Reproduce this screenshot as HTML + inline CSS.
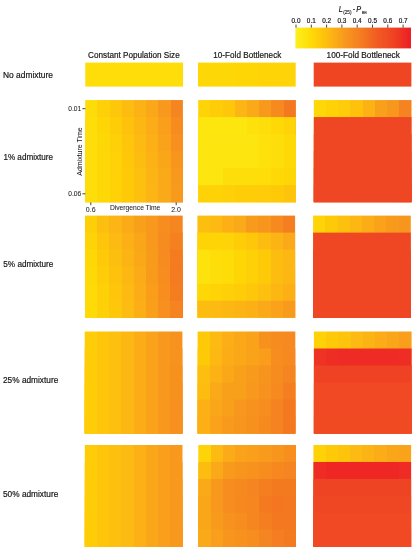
<!DOCTYPE html>
<html><head><meta charset="utf-8"><title>Heatmaps</title>
<style>
html,body{margin:0;padding:0;background:#fff;}
body{width:412px;height:550px;overflow:hidden;}
svg{display:block;will-change:transform}
text{font-family:"Liberation Sans",sans-serif;fill:#151515;stroke:#151515;stroke-width:0.18px}
.t7{font-size:6.4px}
.rl{font-size:8.4px}
.ch{font-size:8.3px}
.ax{font-size:6.7px;stroke-width:0.05px;fill:#222}
.ti{font-size:8.4px;font-style:italic}
.sub{font-size:4.7px;stroke-width:0.1px}
.sub2{font-size:3.8px;stroke-width:0.1px}
</style></head><body>
<svg width="412" height="550" viewBox="0 0 412 550">
<defs><linearGradient id="g1" x1="0" x2="1" y1="0" y2="0"><stop offset="0.0000" stop-color="#fedd09"/><stop offset="0.1250" stop-color="#fedd09"/><stop offset="0.1250" stop-color="#fedd09"/><stop offset="0.2500" stop-color="#fedd09"/><stop offset="0.2500" stop-color="#fedd09"/><stop offset="0.3750" stop-color="#fedd09"/><stop offset="0.3750" stop-color="#fedd09"/><stop offset="0.5000" stop-color="#fedd09"/><stop offset="0.5000" stop-color="#fedd09"/><stop offset="0.6250" stop-color="#fedd09"/><stop offset="0.6250" stop-color="#fedd09"/><stop offset="0.7500" stop-color="#fedd09"/><stop offset="0.7500" stop-color="#fedd09"/><stop offset="0.8750" stop-color="#fedd09"/><stop offset="0.8750" stop-color="#fedd09"/><stop offset="1.0000" stop-color="#fedd09"/></linearGradient><linearGradient id="g2" x1="0" x2="1" y1="0" y2="0"><stop offset="0.0000" stop-color="#fedc08"/><stop offset="0.1250" stop-color="#fedc08"/><stop offset="0.1250" stop-color="#fed007"/><stop offset="0.2500" stop-color="#fed007"/><stop offset="0.2500" stop-color="#fec70a"/><stop offset="0.3750" stop-color="#fec70a"/><stop offset="0.3750" stop-color="#fdbd10"/><stop offset="0.5000" stop-color="#fdbd10"/><stop offset="0.5000" stop-color="#fcb215"/><stop offset="0.6250" stop-color="#fcb215"/><stop offset="0.6250" stop-color="#faa718"/><stop offset="0.7500" stop-color="#faa718"/><stop offset="0.7500" stop-color="#f8981d"/><stop offset="0.8750" stop-color="#f8981d"/><stop offset="0.8750" stop-color="#f58520"/><stop offset="1.0000" stop-color="#f58520"/></linearGradient><linearGradient id="g3" x1="0" x2="1" y1="0" y2="0"><stop offset="0.0000" stop-color="#fedd09"/><stop offset="0.1250" stop-color="#fedd09"/><stop offset="0.1250" stop-color="#fed606"/><stop offset="0.2500" stop-color="#fed606"/><stop offset="0.2500" stop-color="#fecd08"/><stop offset="0.3750" stop-color="#fecd08"/><stop offset="0.3750" stop-color="#fec20d"/><stop offset="0.5000" stop-color="#fec20d"/><stop offset="0.5000" stop-color="#fcb713"/><stop offset="0.6250" stop-color="#fcb713"/><stop offset="0.6250" stop-color="#fbac16"/><stop offset="0.7500" stop-color="#fbac16"/><stop offset="0.7500" stop-color="#f99f1b"/><stop offset="0.8750" stop-color="#f99f1b"/><stop offset="0.8750" stop-color="#f68c1f"/><stop offset="1.0000" stop-color="#f68c1f"/></linearGradient><linearGradient id="g4" x1="0" x2="1" y1="0" y2="0"><stop offset="0.0000" stop-color="#fede0a"/><stop offset="0.1250" stop-color="#fede0a"/><stop offset="0.1250" stop-color="#fed806"/><stop offset="0.2500" stop-color="#fed806"/><stop offset="0.2500" stop-color="#fed007"/><stop offset="0.3750" stop-color="#fed007"/><stop offset="0.3750" stop-color="#fec50b"/><stop offset="0.5000" stop-color="#fec50b"/><stop offset="0.5000" stop-color="#fdba12"/><stop offset="0.6250" stop-color="#fdba12"/><stop offset="0.6250" stop-color="#fcb015"/><stop offset="0.7500" stop-color="#fcb015"/><stop offset="0.7500" stop-color="#faa21a"/><stop offset="0.8750" stop-color="#faa21a"/><stop offset="0.8750" stop-color="#f7901e"/><stop offset="1.0000" stop-color="#f7901e"/></linearGradient><linearGradient id="g5" x1="0" x2="1" y1="0" y2="0"><stop offset="0.0000" stop-color="#fede0a"/><stop offset="0.1250" stop-color="#fede0a"/><stop offset="0.1250" stop-color="#fed806"/><stop offset="0.2500" stop-color="#fed806"/><stop offset="0.2500" stop-color="#fed207"/><stop offset="0.3750" stop-color="#fed207"/><stop offset="0.3750" stop-color="#fec809"/><stop offset="0.5000" stop-color="#fec809"/><stop offset="0.5000" stop-color="#fdbd10"/><stop offset="0.6250" stop-color="#fdbd10"/><stop offset="0.6250" stop-color="#fcb215"/><stop offset="0.7500" stop-color="#fcb215"/><stop offset="0.7500" stop-color="#faa619"/><stop offset="0.8750" stop-color="#faa619"/><stop offset="0.8750" stop-color="#f8951d"/><stop offset="1.0000" stop-color="#f8951d"/></linearGradient><linearGradient id="g6" x1="0" x2="1" y1="0" y2="0"><stop offset="0.0000" stop-color="#fede0a"/><stop offset="0.1250" stop-color="#fede0a"/><stop offset="0.1250" stop-color="#fed806"/><stop offset="0.2500" stop-color="#fed806"/><stop offset="0.2500" stop-color="#fed207"/><stop offset="0.3750" stop-color="#fed207"/><stop offset="0.3750" stop-color="#feca08"/><stop offset="0.5000" stop-color="#feca08"/><stop offset="0.5000" stop-color="#fdc00e"/><stop offset="0.6250" stop-color="#fdc00e"/><stop offset="0.6250" stop-color="#fcb314"/><stop offset="0.7500" stop-color="#fcb314"/><stop offset="0.7500" stop-color="#faa918"/><stop offset="0.8750" stop-color="#faa918"/><stop offset="0.8750" stop-color="#f8981d"/><stop offset="1.0000" stop-color="#f8981d"/></linearGradient><linearGradient id="g7" x1="0" x2="1" y1="0" y2="0"><stop offset="0.0000" stop-color="#fede0a"/><stop offset="0.1250" stop-color="#fede0a"/><stop offset="0.1250" stop-color="#fed806"/><stop offset="0.2500" stop-color="#fed806"/><stop offset="0.2500" stop-color="#fed207"/><stop offset="0.3750" stop-color="#fed207"/><stop offset="0.3750" stop-color="#feca08"/><stop offset="0.5000" stop-color="#feca08"/><stop offset="0.5000" stop-color="#fdc00e"/><stop offset="0.6250" stop-color="#fdc00e"/><stop offset="0.6250" stop-color="#fcb514"/><stop offset="0.7500" stop-color="#fcb514"/><stop offset="0.7500" stop-color="#faa918"/><stop offset="0.8750" stop-color="#faa918"/><stop offset="0.8750" stop-color="#f89a1c"/><stop offset="1.0000" stop-color="#f89a1c"/></linearGradient><linearGradient id="g8" x1="0" x2="1" y1="0" y2="0"><stop offset="0.0000" stop-color="#fece07"/><stop offset="0.1250" stop-color="#fece07"/><stop offset="0.1250" stop-color="#fdbf0f"/><stop offset="0.2500" stop-color="#fdbf0f"/><stop offset="0.2500" stop-color="#fcb514"/><stop offset="0.3750" stop-color="#fcb514"/><stop offset="0.3750" stop-color="#fbab17"/><stop offset="0.5000" stop-color="#fbab17"/><stop offset="0.5000" stop-color="#f9a01a"/><stop offset="0.6250" stop-color="#f9a01a"/><stop offset="0.6250" stop-color="#f8981d"/><stop offset="0.7500" stop-color="#f8981d"/><stop offset="0.7500" stop-color="#f68d1e"/><stop offset="0.8750" stop-color="#f68d1e"/><stop offset="0.8750" stop-color="#f6861f"/><stop offset="1.0000" stop-color="#f6861f"/></linearGradient><linearGradient id="g9" x1="0" x2="1" y1="0" y2="0"><stop offset="0.0000" stop-color="#fed307"/><stop offset="0.1250" stop-color="#fed307"/><stop offset="0.1250" stop-color="#fec50b"/><stop offset="0.2500" stop-color="#fec50b"/><stop offset="0.2500" stop-color="#fdba12"/><stop offset="0.3750" stop-color="#fdba12"/><stop offset="0.3750" stop-color="#fcb015"/><stop offset="0.5000" stop-color="#fcb015"/><stop offset="0.5000" stop-color="#faa619"/><stop offset="0.6250" stop-color="#faa619"/><stop offset="0.6250" stop-color="#f8981d"/><stop offset="0.7500" stop-color="#f8981d"/><stop offset="0.7500" stop-color="#f68c1f"/><stop offset="0.8750" stop-color="#f68c1f"/><stop offset="0.8750" stop-color="#f58020"/><stop offset="1.0000" stop-color="#f58020"/></linearGradient><linearGradient id="g10" x1="0" x2="1" y1="0" y2="0"><stop offset="0.0000" stop-color="#fed806"/><stop offset="0.1250" stop-color="#fed806"/><stop offset="0.1250" stop-color="#feca08"/><stop offset="0.2500" stop-color="#feca08"/><stop offset="0.2500" stop-color="#fdbf0f"/><stop offset="0.3750" stop-color="#fdbf0f"/><stop offset="0.3750" stop-color="#fcb314"/><stop offset="0.5000" stop-color="#fcb314"/><stop offset="0.5000" stop-color="#faa718"/><stop offset="0.6250" stop-color="#faa718"/><stop offset="0.6250" stop-color="#f89a1c"/><stop offset="0.7500" stop-color="#f89a1c"/><stop offset="0.7500" stop-color="#f68c1f"/><stop offset="0.8750" stop-color="#f68c1f"/><stop offset="0.8750" stop-color="#f47b20"/><stop offset="1.0000" stop-color="#f47b20"/></linearGradient><linearGradient id="g11" x1="0" x2="1" y1="0" y2="0"><stop offset="0.0000" stop-color="#fed906"/><stop offset="0.1250" stop-color="#fed906"/><stop offset="0.1250" stop-color="#fecd08"/><stop offset="0.2500" stop-color="#fecd08"/><stop offset="0.2500" stop-color="#fec20d"/><stop offset="0.3750" stop-color="#fec20d"/><stop offset="0.3750" stop-color="#fcb713"/><stop offset="0.5000" stop-color="#fcb713"/><stop offset="0.5000" stop-color="#fbab17"/><stop offset="0.6250" stop-color="#fbab17"/><stop offset="0.6250" stop-color="#f89b1c"/><stop offset="0.7500" stop-color="#f89b1c"/><stop offset="0.7500" stop-color="#f68d1e"/><stop offset="0.8750" stop-color="#f68d1e"/><stop offset="0.8750" stop-color="#f47b20"/><stop offset="1.0000" stop-color="#f47b20"/></linearGradient><linearGradient id="g12" x1="0" x2="1" y1="0" y2="0"><stop offset="0.0000" stop-color="#feda07"/><stop offset="0.1250" stop-color="#feda07"/><stop offset="0.1250" stop-color="#fed007"/><stop offset="0.2500" stop-color="#fed007"/><stop offset="0.2500" stop-color="#fec50b"/><stop offset="0.3750" stop-color="#fec50b"/><stop offset="0.3750" stop-color="#fdba12"/><stop offset="0.5000" stop-color="#fdba12"/><stop offset="0.5000" stop-color="#fbac16"/><stop offset="0.6250" stop-color="#fbac16"/><stop offset="0.6250" stop-color="#f99d1b"/><stop offset="0.7500" stop-color="#f99d1b"/><stop offset="0.7500" stop-color="#f78e1e"/><stop offset="0.8750" stop-color="#f78e1e"/><stop offset="0.8750" stop-color="#f47d20"/><stop offset="1.0000" stop-color="#f47d20"/></linearGradient><linearGradient id="g13" x1="0" x2="1" y1="0" y2="0"><stop offset="0.0000" stop-color="#feda07"/><stop offset="0.1250" stop-color="#feda07"/><stop offset="0.1250" stop-color="#fed007"/><stop offset="0.2500" stop-color="#fed007"/><stop offset="0.2500" stop-color="#fec70a"/><stop offset="0.3750" stop-color="#fec70a"/><stop offset="0.3750" stop-color="#fdbc11"/><stop offset="0.5000" stop-color="#fdbc11"/><stop offset="0.5000" stop-color="#fbae16"/><stop offset="0.6250" stop-color="#fbae16"/><stop offset="0.6250" stop-color="#f99f1b"/><stop offset="0.7500" stop-color="#f99f1b"/><stop offset="0.7500" stop-color="#f7901e"/><stop offset="0.8750" stop-color="#f7901e"/><stop offset="0.8750" stop-color="#f58320"/><stop offset="1.0000" stop-color="#f58320"/></linearGradient><linearGradient id="g14" x1="0" x2="1" y1="0" y2="0"><stop offset="0.0000" stop-color="#fecd08"/><stop offset="0.1250" stop-color="#fecd08"/><stop offset="0.1250" stop-color="#fec50b"/><stop offset="0.2500" stop-color="#fec50b"/><stop offset="0.2500" stop-color="#fdc00e"/><stop offset="0.3750" stop-color="#fdc00e"/><stop offset="0.3750" stop-color="#fcb713"/><stop offset="0.5000" stop-color="#fcb713"/><stop offset="0.5000" stop-color="#fbac16"/><stop offset="0.6250" stop-color="#fbac16"/><stop offset="0.6250" stop-color="#faa21a"/><stop offset="0.7500" stop-color="#faa21a"/><stop offset="0.7500" stop-color="#f8981d"/><stop offset="0.8750" stop-color="#f8981d"/><stop offset="0.8750" stop-color="#f7921e"/><stop offset="1.0000" stop-color="#f7921e"/></linearGradient><linearGradient id="g15" x1="0" x2="1" y1="0" y2="0"><stop offset="0.0000" stop-color="#fecd08"/><stop offset="0.1250" stop-color="#fecd08"/><stop offset="0.1250" stop-color="#fec50b"/><stop offset="0.2500" stop-color="#fec50b"/><stop offset="0.2500" stop-color="#fdc00e"/><stop offset="0.3750" stop-color="#fdc00e"/><stop offset="0.3750" stop-color="#fcb713"/><stop offset="0.5000" stop-color="#fcb713"/><stop offset="0.5000" stop-color="#fbac16"/><stop offset="0.6250" stop-color="#fbac16"/><stop offset="0.6250" stop-color="#faa21a"/><stop offset="0.7500" stop-color="#faa21a"/><stop offset="0.7500" stop-color="#f8981d"/><stop offset="0.8750" stop-color="#f8981d"/><stop offset="0.8750" stop-color="#f7921e"/><stop offset="1.0000" stop-color="#f7921e"/></linearGradient><linearGradient id="g16" x1="0" x2="1" y1="0" y2="0"><stop offset="0.0000" stop-color="#fecd08"/><stop offset="0.1250" stop-color="#fecd08"/><stop offset="0.1250" stop-color="#fec50b"/><stop offset="0.2500" stop-color="#fec50b"/><stop offset="0.2500" stop-color="#fdc00e"/><stop offset="0.3750" stop-color="#fdc00e"/><stop offset="0.3750" stop-color="#fcb713"/><stop offset="0.5000" stop-color="#fcb713"/><stop offset="0.5000" stop-color="#fbac16"/><stop offset="0.6250" stop-color="#fbac16"/><stop offset="0.6250" stop-color="#faa21a"/><stop offset="0.7500" stop-color="#faa21a"/><stop offset="0.7500" stop-color="#f8981d"/><stop offset="0.8750" stop-color="#f8981d"/><stop offset="0.8750" stop-color="#f7911e"/><stop offset="1.0000" stop-color="#f7911e"/></linearGradient><linearGradient id="g17" x1="0" x2="1" y1="0" y2="0"><stop offset="0.0000" stop-color="#fecd08"/><stop offset="0.1250" stop-color="#fecd08"/><stop offset="0.1250" stop-color="#fec50b"/><stop offset="0.2500" stop-color="#fec50b"/><stop offset="0.2500" stop-color="#fdc00e"/><stop offset="0.3750" stop-color="#fdc00e"/><stop offset="0.3750" stop-color="#fcb713"/><stop offset="0.5000" stop-color="#fcb713"/><stop offset="0.5000" stop-color="#fbac16"/><stop offset="0.6250" stop-color="#fbac16"/><stop offset="0.6250" stop-color="#faa21a"/><stop offset="0.7500" stop-color="#faa21a"/><stop offset="0.7500" stop-color="#f8981d"/><stop offset="0.8750" stop-color="#f8981d"/><stop offset="0.8750" stop-color="#f7911e"/><stop offset="1.0000" stop-color="#f7911e"/></linearGradient><linearGradient id="g18" x1="0" x2="1" y1="0" y2="0"><stop offset="0.0000" stop-color="#fecd08"/><stop offset="0.1250" stop-color="#fecd08"/><stop offset="0.1250" stop-color="#fec50b"/><stop offset="0.2500" stop-color="#fec50b"/><stop offset="0.2500" stop-color="#fdc00e"/><stop offset="0.3750" stop-color="#fdc00e"/><stop offset="0.3750" stop-color="#fcb713"/><stop offset="0.5000" stop-color="#fcb713"/><stop offset="0.5000" stop-color="#fbac16"/><stop offset="0.6250" stop-color="#fbac16"/><stop offset="0.6250" stop-color="#faa21a"/><stop offset="0.7500" stop-color="#faa21a"/><stop offset="0.7500" stop-color="#f8981d"/><stop offset="0.8750" stop-color="#f8981d"/><stop offset="0.8750" stop-color="#f7901e"/><stop offset="1.0000" stop-color="#f7901e"/></linearGradient><linearGradient id="g19" x1="0" x2="1" y1="0" y2="0"><stop offset="0.0000" stop-color="#fecd08"/><stop offset="0.1250" stop-color="#fecd08"/><stop offset="0.1250" stop-color="#fec50b"/><stop offset="0.2500" stop-color="#fec50b"/><stop offset="0.2500" stop-color="#fdc00e"/><stop offset="0.3750" stop-color="#fdc00e"/><stop offset="0.3750" stop-color="#fcb713"/><stop offset="0.5000" stop-color="#fcb713"/><stop offset="0.5000" stop-color="#fbac16"/><stop offset="0.6250" stop-color="#fbac16"/><stop offset="0.6250" stop-color="#faa21a"/><stop offset="0.7500" stop-color="#faa21a"/><stop offset="0.7500" stop-color="#f8981d"/><stop offset="0.8750" stop-color="#f8981d"/><stop offset="0.8750" stop-color="#f7901e"/><stop offset="1.0000" stop-color="#f7901e"/></linearGradient><linearGradient id="g20" x1="0" x2="1" y1="0" y2="0"><stop offset="0.0000" stop-color="#fecd08"/><stop offset="0.1250" stop-color="#fecd08"/><stop offset="0.1250" stop-color="#fec50b"/><stop offset="0.2500" stop-color="#fec50b"/><stop offset="0.2500" stop-color="#fdc00e"/><stop offset="0.3750" stop-color="#fdc00e"/><stop offset="0.3750" stop-color="#fdba12"/><stop offset="0.5000" stop-color="#fdba12"/><stop offset="0.5000" stop-color="#fcb015"/><stop offset="0.6250" stop-color="#fcb015"/><stop offset="0.6250" stop-color="#faa619"/><stop offset="0.7500" stop-color="#faa619"/><stop offset="0.7500" stop-color="#f99f1b"/><stop offset="0.8750" stop-color="#f99f1b"/><stop offset="0.8750" stop-color="#f8981d"/><stop offset="1.0000" stop-color="#f8981d"/></linearGradient><linearGradient id="g21" x1="0" x2="1" y1="0" y2="0"><stop offset="0.0000" stop-color="#fecd08"/><stop offset="0.1250" stop-color="#fecd08"/><stop offset="0.1250" stop-color="#fec50b"/><stop offset="0.2500" stop-color="#fec50b"/><stop offset="0.2500" stop-color="#fdc00e"/><stop offset="0.3750" stop-color="#fdc00e"/><stop offset="0.3750" stop-color="#fdba12"/><stop offset="0.5000" stop-color="#fdba12"/><stop offset="0.5000" stop-color="#fcb015"/><stop offset="0.6250" stop-color="#fcb015"/><stop offset="0.6250" stop-color="#faa619"/><stop offset="0.7500" stop-color="#faa619"/><stop offset="0.7500" stop-color="#f99f1b"/><stop offset="0.8750" stop-color="#f99f1b"/><stop offset="0.8750" stop-color="#f8981d"/><stop offset="1.0000" stop-color="#f8981d"/></linearGradient><linearGradient id="g22" x1="0" x2="1" y1="0" y2="0"><stop offset="0.0000" stop-color="#fecd08"/><stop offset="0.1250" stop-color="#fecd08"/><stop offset="0.1250" stop-color="#fec50b"/><stop offset="0.2500" stop-color="#fec50b"/><stop offset="0.2500" stop-color="#fdc00e"/><stop offset="0.3750" stop-color="#fdc00e"/><stop offset="0.3750" stop-color="#fdba12"/><stop offset="0.5000" stop-color="#fdba12"/><stop offset="0.5000" stop-color="#fcb015"/><stop offset="0.6250" stop-color="#fcb015"/><stop offset="0.6250" stop-color="#faa619"/><stop offset="0.7500" stop-color="#faa619"/><stop offset="0.7500" stop-color="#f99f1b"/><stop offset="0.8750" stop-color="#f99f1b"/><stop offset="0.8750" stop-color="#f8981d"/><stop offset="1.0000" stop-color="#f8981d"/></linearGradient><linearGradient id="g23" x1="0" x2="1" y1="0" y2="0"><stop offset="0.0000" stop-color="#fecd08"/><stop offset="0.1250" stop-color="#fecd08"/><stop offset="0.1250" stop-color="#fec50b"/><stop offset="0.2500" stop-color="#fec50b"/><stop offset="0.2500" stop-color="#fdc00e"/><stop offset="0.3750" stop-color="#fdc00e"/><stop offset="0.3750" stop-color="#fdba12"/><stop offset="0.5000" stop-color="#fdba12"/><stop offset="0.5000" stop-color="#fcb015"/><stop offset="0.6250" stop-color="#fcb015"/><stop offset="0.6250" stop-color="#faa619"/><stop offset="0.7500" stop-color="#faa619"/><stop offset="0.7500" stop-color="#f99f1b"/><stop offset="0.8750" stop-color="#f99f1b"/><stop offset="0.8750" stop-color="#f8981d"/><stop offset="1.0000" stop-color="#f8981d"/></linearGradient><linearGradient id="g24" x1="0" x2="1" y1="0" y2="0"><stop offset="0.0000" stop-color="#fecd08"/><stop offset="0.1250" stop-color="#fecd08"/><stop offset="0.1250" stop-color="#fec50b"/><stop offset="0.2500" stop-color="#fec50b"/><stop offset="0.2500" stop-color="#fdc00e"/><stop offset="0.3750" stop-color="#fdc00e"/><stop offset="0.3750" stop-color="#fdba12"/><stop offset="0.5000" stop-color="#fdba12"/><stop offset="0.5000" stop-color="#fcb015"/><stop offset="0.6250" stop-color="#fcb015"/><stop offset="0.6250" stop-color="#faa619"/><stop offset="0.7500" stop-color="#faa619"/><stop offset="0.7500" stop-color="#f99f1b"/><stop offset="0.8750" stop-color="#f99f1b"/><stop offset="0.8750" stop-color="#f8981d"/><stop offset="1.0000" stop-color="#f8981d"/></linearGradient><linearGradient id="g25" x1="0" x2="1" y1="0" y2="0"><stop offset="0.0000" stop-color="#fecd08"/><stop offset="0.1250" stop-color="#fecd08"/><stop offset="0.1250" stop-color="#fec50b"/><stop offset="0.2500" stop-color="#fec50b"/><stop offset="0.2500" stop-color="#fdc00e"/><stop offset="0.3750" stop-color="#fdc00e"/><stop offset="0.3750" stop-color="#fdba12"/><stop offset="0.5000" stop-color="#fdba12"/><stop offset="0.5000" stop-color="#fcb015"/><stop offset="0.6250" stop-color="#fcb015"/><stop offset="0.6250" stop-color="#faa619"/><stop offset="0.7500" stop-color="#faa619"/><stop offset="0.7500" stop-color="#f99f1b"/><stop offset="0.8750" stop-color="#f99f1b"/><stop offset="0.8750" stop-color="#f8981d"/><stop offset="1.0000" stop-color="#f8981d"/></linearGradient><linearGradient id="g26" x1="0" x2="1" y1="0" y2="0"><stop offset="0.0000" stop-color="#fed806"/><stop offset="0.1250" stop-color="#fed806"/><stop offset="0.1250" stop-color="#fed806"/><stop offset="0.2500" stop-color="#fed806"/><stop offset="0.2500" stop-color="#fed806"/><stop offset="0.3750" stop-color="#fed806"/><stop offset="0.3750" stop-color="#fed606"/><stop offset="0.5000" stop-color="#fed606"/><stop offset="0.5000" stop-color="#fed606"/><stop offset="0.6250" stop-color="#fed606"/><stop offset="0.6250" stop-color="#fed407"/><stop offset="0.7500" stop-color="#fed407"/><stop offset="0.7500" stop-color="#fed407"/><stop offset="0.8750" stop-color="#fed407"/><stop offset="0.8750" stop-color="#fed307"/><stop offset="1.0000" stop-color="#fed307"/></linearGradient><linearGradient id="g27" x1="0" x2="1" y1="0" y2="0"><stop offset="0.0000" stop-color="#fed407"/><stop offset="0.1250" stop-color="#fed407"/><stop offset="0.1250" stop-color="#fecd08"/><stop offset="0.2500" stop-color="#fecd08"/><stop offset="0.2500" stop-color="#fec70a"/><stop offset="0.3750" stop-color="#fec70a"/><stop offset="0.3750" stop-color="#fcb514"/><stop offset="0.5000" stop-color="#fcb514"/><stop offset="0.5000" stop-color="#faa918"/><stop offset="0.6250" stop-color="#faa918"/><stop offset="0.6250" stop-color="#f8981d"/><stop offset="0.7500" stop-color="#f8981d"/><stop offset="0.7500" stop-color="#f68a1f"/><stop offset="0.8750" stop-color="#f68a1f"/><stop offset="0.8750" stop-color="#f47820"/><stop offset="1.0000" stop-color="#f47820"/></linearGradient><linearGradient id="g28" x1="0" x2="1" y1="0" y2="0"><stop offset="0.0000" stop-color="#fde50e"/><stop offset="0.1250" stop-color="#fde50e"/><stop offset="0.1250" stop-color="#fde50e"/><stop offset="0.2500" stop-color="#fde50e"/><stop offset="0.2500" stop-color="#fde50e"/><stop offset="0.3750" stop-color="#fde50e"/><stop offset="0.3750" stop-color="#fde50e"/><stop offset="0.5000" stop-color="#fde50e"/><stop offset="0.5000" stop-color="#fee00a"/><stop offset="0.6250" stop-color="#fee00a"/><stop offset="0.6250" stop-color="#fede0a"/><stop offset="0.7500" stop-color="#fede0a"/><stop offset="0.7500" stop-color="#fed906"/><stop offset="0.8750" stop-color="#fed906"/><stop offset="0.8750" stop-color="#fed307"/><stop offset="1.0000" stop-color="#fed307"/></linearGradient><linearGradient id="g29" x1="0" x2="1" y1="0" y2="0"><stop offset="0.0000" stop-color="#fde60f"/><stop offset="0.1250" stop-color="#fde60f"/><stop offset="0.1250" stop-color="#fde60f"/><stop offset="0.2500" stop-color="#fde60f"/><stop offset="0.2500" stop-color="#fde60f"/><stop offset="0.3750" stop-color="#fde60f"/><stop offset="0.3750" stop-color="#fde60f"/><stop offset="0.5000" stop-color="#fde60f"/><stop offset="0.5000" stop-color="#fde60f"/><stop offset="0.6250" stop-color="#fde60f"/><stop offset="0.6250" stop-color="#fee00a"/><stop offset="0.7500" stop-color="#fee00a"/><stop offset="0.7500" stop-color="#fede0a"/><stop offset="0.8750" stop-color="#fede0a"/><stop offset="0.8750" stop-color="#fed906"/><stop offset="1.0000" stop-color="#fed906"/></linearGradient><linearGradient id="g30" x1="0" x2="1" y1="0" y2="0"><stop offset="0.0000" stop-color="#fde60f"/><stop offset="0.1250" stop-color="#fde60f"/><stop offset="0.1250" stop-color="#fde60f"/><stop offset="0.2500" stop-color="#fde60f"/><stop offset="0.2500" stop-color="#fde60f"/><stop offset="0.3750" stop-color="#fde60f"/><stop offset="0.3750" stop-color="#fde60f"/><stop offset="0.5000" stop-color="#fde60f"/><stop offset="0.5000" stop-color="#fde60f"/><stop offset="0.6250" stop-color="#fde60f"/><stop offset="0.6250" stop-color="#fee00a"/><stop offset="0.7500" stop-color="#fee00a"/><stop offset="0.7500" stop-color="#fede0a"/><stop offset="0.8750" stop-color="#fede0a"/><stop offset="0.8750" stop-color="#fed906"/><stop offset="1.0000" stop-color="#fed906"/></linearGradient><linearGradient id="g31" x1="0" x2="1" y1="0" y2="0"><stop offset="0.0000" stop-color="#fde60f"/><stop offset="0.1250" stop-color="#fde60f"/><stop offset="0.1250" stop-color="#fde60f"/><stop offset="0.2500" stop-color="#fde60f"/><stop offset="0.2500" stop-color="#fede0a"/><stop offset="0.3750" stop-color="#fede0a"/><stop offset="0.3750" stop-color="#fede0a"/><stop offset="0.5000" stop-color="#fede0a"/><stop offset="0.5000" stop-color="#fede0a"/><stop offset="0.6250" stop-color="#fede0a"/><stop offset="0.6250" stop-color="#fedd09"/><stop offset="0.7500" stop-color="#fedd09"/><stop offset="0.7500" stop-color="#fed906"/><stop offset="0.8750" stop-color="#fed906"/><stop offset="0.8750" stop-color="#fed606"/><stop offset="1.0000" stop-color="#fed606"/></linearGradient><linearGradient id="g32" x1="0" x2="1" y1="0" y2="0"><stop offset="0.0000" stop-color="#fed207"/><stop offset="0.1250" stop-color="#fed207"/><stop offset="0.1250" stop-color="#fed207"/><stop offset="0.2500" stop-color="#fed207"/><stop offset="0.2500" stop-color="#fed007"/><stop offset="0.3750" stop-color="#fed007"/><stop offset="0.3750" stop-color="#fecd08"/><stop offset="0.5000" stop-color="#fecd08"/><stop offset="0.5000" stop-color="#fecd08"/><stop offset="0.6250" stop-color="#fecd08"/><stop offset="0.6250" stop-color="#fecc08"/><stop offset="0.7500" stop-color="#fecc08"/><stop offset="0.7500" stop-color="#feca08"/><stop offset="0.8750" stop-color="#feca08"/><stop offset="0.8750" stop-color="#fec40c"/><stop offset="1.0000" stop-color="#fec40c"/></linearGradient><linearGradient id="g33" x1="0" x2="1" y1="0" y2="0"><stop offset="0.0000" stop-color="#fdbf0f"/><stop offset="0.1250" stop-color="#fdbf0f"/><stop offset="0.1250" stop-color="#fdba12"/><stop offset="0.2500" stop-color="#fdba12"/><stop offset="0.2500" stop-color="#fcb015"/><stop offset="0.3750" stop-color="#fcb015"/><stop offset="0.3750" stop-color="#faa918"/><stop offset="0.5000" stop-color="#faa918"/><stop offset="0.5000" stop-color="#f89b1c"/><stop offset="0.6250" stop-color="#f89b1c"/><stop offset="0.6250" stop-color="#f8951d"/><stop offset="0.7500" stop-color="#f8951d"/><stop offset="0.7500" stop-color="#f68a1f"/><stop offset="0.8750" stop-color="#f68a1f"/><stop offset="0.8750" stop-color="#f57f20"/><stop offset="1.0000" stop-color="#f57f20"/></linearGradient><linearGradient id="g34" x1="0" x2="1" y1="0" y2="0"><stop offset="0.0000" stop-color="#fed407"/><stop offset="0.1250" stop-color="#fed407"/><stop offset="0.1250" stop-color="#fed407"/><stop offset="0.2500" stop-color="#fed407"/><stop offset="0.2500" stop-color="#fed307"/><stop offset="0.3750" stop-color="#fed307"/><stop offset="0.3750" stop-color="#fecd08"/><stop offset="0.5000" stop-color="#fecd08"/><stop offset="0.5000" stop-color="#fec70a"/><stop offset="0.6250" stop-color="#fec70a"/><stop offset="0.6250" stop-color="#fdbd10"/><stop offset="0.7500" stop-color="#fdbd10"/><stop offset="0.7500" stop-color="#fcb314"/><stop offset="0.8750" stop-color="#fcb314"/><stop offset="0.8750" stop-color="#faa918"/><stop offset="1.0000" stop-color="#faa918"/></linearGradient><linearGradient id="g35" x1="0" x2="1" y1="0" y2="0"><stop offset="0.0000" stop-color="#fde20c"/><stop offset="0.1250" stop-color="#fde20c"/><stop offset="0.1250" stop-color="#fedd09"/><stop offset="0.2500" stop-color="#fedd09"/><stop offset="0.2500" stop-color="#fedc08"/><stop offset="0.3750" stop-color="#fedc08"/><stop offset="0.3750" stop-color="#fed606"/><stop offset="0.5000" stop-color="#fed606"/><stop offset="0.5000" stop-color="#fed007"/><stop offset="0.6250" stop-color="#fed007"/><stop offset="0.6250" stop-color="#feca08"/><stop offset="0.7500" stop-color="#feca08"/><stop offset="0.7500" stop-color="#fdbd10"/><stop offset="0.8750" stop-color="#fdbd10"/><stop offset="0.8750" stop-color="#fcb713"/><stop offset="1.0000" stop-color="#fcb713"/></linearGradient><linearGradient id="g36" x1="0" x2="1" y1="0" y2="0"><stop offset="0.0000" stop-color="#fde30d"/><stop offset="0.1250" stop-color="#fde30d"/><stop offset="0.1250" stop-color="#fede0a"/><stop offset="0.2500" stop-color="#fede0a"/><stop offset="0.2500" stop-color="#fedc08"/><stop offset="0.3750" stop-color="#fedc08"/><stop offset="0.3750" stop-color="#fed606"/><stop offset="0.5000" stop-color="#fed606"/><stop offset="0.5000" stop-color="#fed007"/><stop offset="0.6250" stop-color="#fed007"/><stop offset="0.6250" stop-color="#feca08"/><stop offset="0.7500" stop-color="#feca08"/><stop offset="0.7500" stop-color="#fdbd10"/><stop offset="0.8750" stop-color="#fdbd10"/><stop offset="0.8750" stop-color="#fcb713"/><stop offset="1.0000" stop-color="#fcb713"/></linearGradient><linearGradient id="g37" x1="0" x2="1" y1="0" y2="0"><stop offset="0.0000" stop-color="#fed806"/><stop offset="0.1250" stop-color="#fed806"/><stop offset="0.1250" stop-color="#fed407"/><stop offset="0.2500" stop-color="#fed407"/><stop offset="0.2500" stop-color="#fed007"/><stop offset="0.3750" stop-color="#fed007"/><stop offset="0.3750" stop-color="#fecd08"/><stop offset="0.5000" stop-color="#fecd08"/><stop offset="0.5000" stop-color="#fec70a"/><stop offset="0.6250" stop-color="#fec70a"/><stop offset="0.6250" stop-color="#fdc00e"/><stop offset="0.7500" stop-color="#fdc00e"/><stop offset="0.7500" stop-color="#fcb713"/><stop offset="0.8750" stop-color="#fcb713"/><stop offset="0.8750" stop-color="#fcb015"/><stop offset="1.0000" stop-color="#fcb015"/></linearGradient><linearGradient id="g38" x1="0" x2="1" y1="0" y2="0"><stop offset="0.0000" stop-color="#fdbd10"/><stop offset="0.1250" stop-color="#fdbd10"/><stop offset="0.1250" stop-color="#fdba12"/><stop offset="0.2500" stop-color="#fdba12"/><stop offset="0.2500" stop-color="#fcb713"/><stop offset="0.3750" stop-color="#fcb713"/><stop offset="0.3750" stop-color="#fcb314"/><stop offset="0.5000" stop-color="#fcb314"/><stop offset="0.5000" stop-color="#fcb015"/><stop offset="0.6250" stop-color="#fcb015"/><stop offset="0.6250" stop-color="#faa918"/><stop offset="0.7500" stop-color="#faa918"/><stop offset="0.7500" stop-color="#faa21a"/><stop offset="0.8750" stop-color="#faa21a"/><stop offset="0.8750" stop-color="#f89b1c"/><stop offset="1.0000" stop-color="#f89b1c"/></linearGradient><linearGradient id="g39" x1="0" x2="1" y1="0" y2="0"><stop offset="0.0000" stop-color="#feca08"/><stop offset="0.1250" stop-color="#feca08"/><stop offset="0.1250" stop-color="#fdba12"/><stop offset="0.2500" stop-color="#fdba12"/><stop offset="0.2500" stop-color="#fbae16"/><stop offset="0.3750" stop-color="#fbae16"/><stop offset="0.3750" stop-color="#faa718"/><stop offset="0.5000" stop-color="#faa718"/><stop offset="0.5000" stop-color="#faa21a"/><stop offset="0.6250" stop-color="#faa21a"/><stop offset="0.6250" stop-color="#f7911e"/><stop offset="0.7500" stop-color="#f7911e"/><stop offset="0.7500" stop-color="#f68c1f"/><stop offset="0.8750" stop-color="#f68c1f"/><stop offset="0.8750" stop-color="#f6891f"/><stop offset="1.0000" stop-color="#f6891f"/></linearGradient><linearGradient id="g40" x1="0" x2="1" y1="0" y2="0"><stop offset="0.0000" stop-color="#feca08"/><stop offset="0.1250" stop-color="#feca08"/><stop offset="0.1250" stop-color="#fdb813"/><stop offset="0.2500" stop-color="#fdb813"/><stop offset="0.2500" stop-color="#fbac16"/><stop offset="0.3750" stop-color="#fbac16"/><stop offset="0.3750" stop-color="#faa718"/><stop offset="0.5000" stop-color="#faa718"/><stop offset="0.5000" stop-color="#faa21a"/><stop offset="0.6250" stop-color="#faa21a"/><stop offset="0.6250" stop-color="#f99d1b"/><stop offset="0.7500" stop-color="#f99d1b"/><stop offset="0.7500" stop-color="#f68d1e"/><stop offset="0.8750" stop-color="#f68d1e"/><stop offset="0.8750" stop-color="#f6891f"/><stop offset="1.0000" stop-color="#f6891f"/></linearGradient><linearGradient id="g41" x1="0" x2="1" y1="0" y2="0"><stop offset="0.0000" stop-color="#fdbf0f"/><stop offset="0.1250" stop-color="#fdbf0f"/><stop offset="0.1250" stop-color="#fcb215"/><stop offset="0.2500" stop-color="#fcb215"/><stop offset="0.2500" stop-color="#faa718"/><stop offset="0.3750" stop-color="#faa718"/><stop offset="0.3750" stop-color="#f9a01a"/><stop offset="0.5000" stop-color="#f9a01a"/><stop offset="0.5000" stop-color="#f89a1c"/><stop offset="0.6250" stop-color="#f89a1c"/><stop offset="0.6250" stop-color="#f7941e"/><stop offset="0.7500" stop-color="#f7941e"/><stop offset="0.7500" stop-color="#f68c1f"/><stop offset="0.8750" stop-color="#f68c1f"/><stop offset="0.8750" stop-color="#f58520"/><stop offset="1.0000" stop-color="#f58520"/></linearGradient><linearGradient id="g42" x1="0" x2="1" y1="0" y2="0"><stop offset="0.0000" stop-color="#fdbd10"/><stop offset="0.1250" stop-color="#fdbd10"/><stop offset="0.1250" stop-color="#faa918"/><stop offset="0.2500" stop-color="#faa918"/><stop offset="0.2500" stop-color="#f9a01a"/><stop offset="0.3750" stop-color="#f9a01a"/><stop offset="0.3750" stop-color="#f9a01a"/><stop offset="0.5000" stop-color="#f9a01a"/><stop offset="0.5000" stop-color="#f8981d"/><stop offset="0.6250" stop-color="#f8981d"/><stop offset="0.6250" stop-color="#f7921e"/><stop offset="0.7500" stop-color="#f7921e"/><stop offset="0.7500" stop-color="#f68a1f"/><stop offset="0.8750" stop-color="#f68a1f"/><stop offset="0.8750" stop-color="#f57f20"/><stop offset="1.0000" stop-color="#f57f20"/></linearGradient><linearGradient id="g43" x1="0" x2="1" y1="0" y2="0"><stop offset="0.0000" stop-color="#fcb015"/><stop offset="0.1250" stop-color="#fcb015"/><stop offset="0.1250" stop-color="#faa619"/><stop offset="0.2500" stop-color="#faa619"/><stop offset="0.2500" stop-color="#f9a01a"/><stop offset="0.3750" stop-color="#f9a01a"/><stop offset="0.3750" stop-color="#f8971d"/><stop offset="0.5000" stop-color="#f8971d"/><stop offset="0.5000" stop-color="#f7921e"/><stop offset="0.6250" stop-color="#f7921e"/><stop offset="0.6250" stop-color="#f68d1e"/><stop offset="0.7500" stop-color="#f68d1e"/><stop offset="0.7500" stop-color="#f58320"/><stop offset="0.8750" stop-color="#f58320"/><stop offset="0.8750" stop-color="#f47820"/><stop offset="1.0000" stop-color="#f47820"/></linearGradient><linearGradient id="g44" x1="0" x2="1" y1="0" y2="0"><stop offset="0.0000" stop-color="#fcb015"/><stop offset="0.1250" stop-color="#fcb015"/><stop offset="0.1250" stop-color="#faa21a"/><stop offset="0.2500" stop-color="#faa21a"/><stop offset="0.2500" stop-color="#f89b1c"/><stop offset="0.3750" stop-color="#f89b1c"/><stop offset="0.3750" stop-color="#f8951d"/><stop offset="0.5000" stop-color="#f8951d"/><stop offset="0.5000" stop-color="#f7911e"/><stop offset="0.6250" stop-color="#f7911e"/><stop offset="0.6250" stop-color="#f68a1f"/><stop offset="0.7500" stop-color="#f68a1f"/><stop offset="0.7500" stop-color="#f58320"/><stop offset="0.8750" stop-color="#f58320"/><stop offset="0.8750" stop-color="#f47820"/><stop offset="1.0000" stop-color="#f47820"/></linearGradient><linearGradient id="g45" x1="0" x2="1" y1="0" y2="0"><stop offset="0.0000" stop-color="#fed407"/><stop offset="0.1250" stop-color="#fed407"/><stop offset="0.1250" stop-color="#fdba12"/><stop offset="0.2500" stop-color="#fdba12"/><stop offset="0.2500" stop-color="#fbab17"/><stop offset="0.3750" stop-color="#fbab17"/><stop offset="0.3750" stop-color="#faa21a"/><stop offset="0.5000" stop-color="#faa21a"/><stop offset="0.5000" stop-color="#f99f1b"/><stop offset="0.6250" stop-color="#f99f1b"/><stop offset="0.6250" stop-color="#f89b1c"/><stop offset="0.7500" stop-color="#f89b1c"/><stop offset="0.7500" stop-color="#f8951d"/><stop offset="0.8750" stop-color="#f8951d"/><stop offset="0.8750" stop-color="#f78e1e"/><stop offset="1.0000" stop-color="#f78e1e"/></linearGradient><linearGradient id="g46" x1="0" x2="1" y1="0" y2="0"><stop offset="0.0000" stop-color="#fdbd10"/><stop offset="0.1250" stop-color="#fdbd10"/><stop offset="0.1250" stop-color="#faa918"/><stop offset="0.2500" stop-color="#faa918"/><stop offset="0.2500" stop-color="#f89b1c"/><stop offset="0.3750" stop-color="#f89b1c"/><stop offset="0.3750" stop-color="#f8951d"/><stop offset="0.5000" stop-color="#f8951d"/><stop offset="0.5000" stop-color="#f7921e"/><stop offset="0.6250" stop-color="#f7921e"/><stop offset="0.6250" stop-color="#f68d1e"/><stop offset="0.7500" stop-color="#f68d1e"/><stop offset="0.7500" stop-color="#f6881f"/><stop offset="0.8750" stop-color="#f6881f"/><stop offset="0.8750" stop-color="#f58520"/><stop offset="1.0000" stop-color="#f58520"/></linearGradient><linearGradient id="g47" x1="0" x2="1" y1="0" y2="0"><stop offset="0.0000" stop-color="#faa918"/><stop offset="0.1250" stop-color="#faa918"/><stop offset="0.1250" stop-color="#f8981d"/><stop offset="0.2500" stop-color="#f8981d"/><stop offset="0.2500" stop-color="#f68d1e"/><stop offset="0.3750" stop-color="#f68d1e"/><stop offset="0.3750" stop-color="#f68a1f"/><stop offset="0.5000" stop-color="#f68a1f"/><stop offset="0.5000" stop-color="#f58520"/><stop offset="0.6250" stop-color="#f58520"/><stop offset="0.6250" stop-color="#f57f20"/><stop offset="0.7500" stop-color="#f57f20"/><stop offset="0.7500" stop-color="#f47a20"/><stop offset="0.8750" stop-color="#f47a20"/><stop offset="0.8750" stop-color="#f47a20"/><stop offset="1.0000" stop-color="#f47a20"/></linearGradient><linearGradient id="g48" x1="0" x2="1" y1="0" y2="0"><stop offset="0.0000" stop-color="#faa619"/><stop offset="0.1250" stop-color="#faa619"/><stop offset="0.1250" stop-color="#f8981d"/><stop offset="0.2500" stop-color="#f8981d"/><stop offset="0.2500" stop-color="#f68d1e"/><stop offset="0.3750" stop-color="#f68d1e"/><stop offset="0.3750" stop-color="#f6881f"/><stop offset="0.5000" stop-color="#f6881f"/><stop offset="0.5000" stop-color="#f6861f"/><stop offset="0.6250" stop-color="#f6861f"/><stop offset="0.6250" stop-color="#f47a20"/><stop offset="0.7500" stop-color="#f47a20"/><stop offset="0.7500" stop-color="#f47621"/><stop offset="0.8750" stop-color="#f47621"/><stop offset="0.8750" stop-color="#f47820"/><stop offset="1.0000" stop-color="#f47820"/></linearGradient><linearGradient id="g49" x1="0" x2="1" y1="0" y2="0"><stop offset="0.0000" stop-color="#faa619"/><stop offset="0.1250" stop-color="#faa619"/><stop offset="0.1250" stop-color="#f89b1c"/><stop offset="0.2500" stop-color="#f89b1c"/><stop offset="0.2500" stop-color="#f7921e"/><stop offset="0.3750" stop-color="#f7921e"/><stop offset="0.3750" stop-color="#f68d1e"/><stop offset="0.5000" stop-color="#f68d1e"/><stop offset="0.5000" stop-color="#f6861f"/><stop offset="0.6250" stop-color="#f6861f"/><stop offset="0.6250" stop-color="#f57f20"/><stop offset="0.7500" stop-color="#f57f20"/><stop offset="0.7500" stop-color="#f47820"/><stop offset="0.8750" stop-color="#f47820"/><stop offset="0.8750" stop-color="#f47820"/><stop offset="1.0000" stop-color="#f47820"/></linearGradient><linearGradient id="g50" x1="0" x2="1" y1="0" y2="0"><stop offset="0.0000" stop-color="#faa918"/><stop offset="0.1250" stop-color="#faa918"/><stop offset="0.1250" stop-color="#f99f1b"/><stop offset="0.2500" stop-color="#f99f1b"/><stop offset="0.2500" stop-color="#f8951d"/><stop offset="0.3750" stop-color="#f8951d"/><stop offset="0.3750" stop-color="#f7921e"/><stop offset="0.5000" stop-color="#f7921e"/><stop offset="0.5000" stop-color="#f68d1e"/><stop offset="0.6250" stop-color="#f68d1e"/><stop offset="0.6250" stop-color="#f58520"/><stop offset="0.7500" stop-color="#f58520"/><stop offset="0.7500" stop-color="#f57f20"/><stop offset="0.8750" stop-color="#f57f20"/><stop offset="0.8750" stop-color="#f47a20"/><stop offset="1.0000" stop-color="#f47a20"/></linearGradient><linearGradient id="g51" x1="0" x2="1" y1="0" y2="0"><stop offset="0.0000" stop-color="#ef4523"/><stop offset="0.1250" stop-color="#ef4523"/><stop offset="0.1250" stop-color="#ef4523"/><stop offset="0.2500" stop-color="#ef4523"/><stop offset="0.2500" stop-color="#ef4523"/><stop offset="0.3750" stop-color="#ef4523"/><stop offset="0.3750" stop-color="#ef4523"/><stop offset="0.5000" stop-color="#ef4523"/><stop offset="0.5000" stop-color="#ef4523"/><stop offset="0.6250" stop-color="#ef4523"/><stop offset="0.6250" stop-color="#ef4523"/><stop offset="0.7500" stop-color="#ef4523"/><stop offset="0.7500" stop-color="#ef4523"/><stop offset="0.8750" stop-color="#ef4523"/><stop offset="0.8750" stop-color="#ef4523"/><stop offset="1.0000" stop-color="#ef4523"/></linearGradient><linearGradient id="g52" x1="0" x2="1" y1="0" y2="0"><stop offset="0.0000" stop-color="#fed806"/><stop offset="0.1250" stop-color="#fed806"/><stop offset="0.1250" stop-color="#fed207"/><stop offset="0.2500" stop-color="#fed207"/><stop offset="0.2500" stop-color="#fecc08"/><stop offset="0.3750" stop-color="#fecc08"/><stop offset="0.3750" stop-color="#fec20d"/><stop offset="0.5000" stop-color="#fec20d"/><stop offset="0.5000" stop-color="#fcb215"/><stop offset="0.6250" stop-color="#fcb215"/><stop offset="0.6250" stop-color="#f9a01a"/><stop offset="0.7500" stop-color="#f9a01a"/><stop offset="0.7500" stop-color="#f8971d"/><stop offset="0.8750" stop-color="#f8971d"/><stop offset="0.8750" stop-color="#f58320"/><stop offset="1.0000" stop-color="#f58320"/></linearGradient><linearGradient id="g53" x1="0" x2="1" y1="0" y2="0"><stop offset="0.0000" stop-color="#ef4623"/><stop offset="0.1250" stop-color="#ef4623"/><stop offset="0.1250" stop-color="#ef4623"/><stop offset="0.2500" stop-color="#ef4623"/><stop offset="0.2500" stop-color="#ef4623"/><stop offset="0.3750" stop-color="#ef4623"/><stop offset="0.3750" stop-color="#ef4623"/><stop offset="0.5000" stop-color="#ef4623"/><stop offset="0.5000" stop-color="#ef4623"/><stop offset="0.6250" stop-color="#ef4623"/><stop offset="0.6250" stop-color="#ef4623"/><stop offset="0.7500" stop-color="#ef4623"/><stop offset="0.7500" stop-color="#ef4623"/><stop offset="0.8750" stop-color="#ef4623"/><stop offset="0.8750" stop-color="#ef4623"/><stop offset="1.0000" stop-color="#ef4623"/></linearGradient><linearGradient id="g54" x1="0" x2="1" y1="0" y2="0"><stop offset="0.0000" stop-color="#ef4623"/><stop offset="0.1250" stop-color="#ef4623"/><stop offset="0.1250" stop-color="#ef4623"/><stop offset="0.2500" stop-color="#ef4623"/><stop offset="0.2500" stop-color="#ef4623"/><stop offset="0.3750" stop-color="#ef4623"/><stop offset="0.3750" stop-color="#ef4623"/><stop offset="0.5000" stop-color="#ef4623"/><stop offset="0.5000" stop-color="#ef4623"/><stop offset="0.6250" stop-color="#ef4623"/><stop offset="0.6250" stop-color="#ef4623"/><stop offset="0.7500" stop-color="#ef4623"/><stop offset="0.7500" stop-color="#ef4623"/><stop offset="0.8750" stop-color="#ef4623"/><stop offset="0.8750" stop-color="#ef4623"/><stop offset="1.0000" stop-color="#ef4623"/></linearGradient><linearGradient id="g55" x1="0" x2="1" y1="0" y2="0"><stop offset="0.0000" stop-color="#ef4623"/><stop offset="0.1250" stop-color="#ef4623"/><stop offset="0.1250" stop-color="#ef4623"/><stop offset="0.2500" stop-color="#ef4623"/><stop offset="0.2500" stop-color="#ef4623"/><stop offset="0.3750" stop-color="#ef4623"/><stop offset="0.3750" stop-color="#ef4623"/><stop offset="0.5000" stop-color="#ef4623"/><stop offset="0.5000" stop-color="#ef4623"/><stop offset="0.6250" stop-color="#ef4623"/><stop offset="0.6250" stop-color="#ef4623"/><stop offset="0.7500" stop-color="#ef4623"/><stop offset="0.7500" stop-color="#ef4623"/><stop offset="0.8750" stop-color="#ef4623"/><stop offset="0.8750" stop-color="#ef4623"/><stop offset="1.0000" stop-color="#ef4623"/></linearGradient><linearGradient id="g56" x1="0" x2="1" y1="0" y2="0"><stop offset="0.0000" stop-color="#ef4623"/><stop offset="0.1250" stop-color="#ef4623"/><stop offset="0.1250" stop-color="#ef4623"/><stop offset="0.2500" stop-color="#ef4623"/><stop offset="0.2500" stop-color="#ef4623"/><stop offset="0.3750" stop-color="#ef4623"/><stop offset="0.3750" stop-color="#ef4623"/><stop offset="0.5000" stop-color="#ef4623"/><stop offset="0.5000" stop-color="#ef4623"/><stop offset="0.6250" stop-color="#ef4623"/><stop offset="0.6250" stop-color="#ef4623"/><stop offset="0.7500" stop-color="#ef4623"/><stop offset="0.7500" stop-color="#ef4623"/><stop offset="0.8750" stop-color="#ef4623"/><stop offset="0.8750" stop-color="#ef4623"/><stop offset="1.0000" stop-color="#ef4623"/></linearGradient><linearGradient id="g57" x1="0" x2="1" y1="0" y2="0"><stop offset="0.0000" stop-color="#ef4623"/><stop offset="0.1250" stop-color="#ef4623"/><stop offset="0.1250" stop-color="#ef4623"/><stop offset="0.2500" stop-color="#ef4623"/><stop offset="0.2500" stop-color="#ef4623"/><stop offset="0.3750" stop-color="#ef4623"/><stop offset="0.3750" stop-color="#ef4623"/><stop offset="0.5000" stop-color="#ef4623"/><stop offset="0.5000" stop-color="#ef4623"/><stop offset="0.6250" stop-color="#ef4623"/><stop offset="0.6250" stop-color="#ef4623"/><stop offset="0.7500" stop-color="#ef4623"/><stop offset="0.7500" stop-color="#ef4623"/><stop offset="0.8750" stop-color="#ef4623"/><stop offset="0.8750" stop-color="#ef4623"/><stop offset="1.0000" stop-color="#ef4623"/></linearGradient><linearGradient id="g58" x1="0" x2="1" y1="0" y2="0"><stop offset="0.0000" stop-color="#fed307"/><stop offset="0.1250" stop-color="#fed307"/><stop offset="0.1250" stop-color="#feca08"/><stop offset="0.2500" stop-color="#feca08"/><stop offset="0.2500" stop-color="#fdc00e"/><stop offset="0.3750" stop-color="#fdc00e"/><stop offset="0.3750" stop-color="#fcb713"/><stop offset="0.5000" stop-color="#fcb713"/><stop offset="0.5000" stop-color="#fbac16"/><stop offset="0.6250" stop-color="#fbac16"/><stop offset="0.6250" stop-color="#faa21a"/><stop offset="0.7500" stop-color="#faa21a"/><stop offset="0.7500" stop-color="#f89b1c"/><stop offset="0.8750" stop-color="#f89b1c"/><stop offset="0.8750" stop-color="#f8951d"/><stop offset="1.0000" stop-color="#f8951d"/></linearGradient><linearGradient id="g59" x1="0" x2="1" y1="0" y2="0"><stop offset="0.0000" stop-color="#ef4623"/><stop offset="0.1250" stop-color="#ef4623"/><stop offset="0.1250" stop-color="#ef4623"/><stop offset="0.2500" stop-color="#ef4623"/><stop offset="0.2500" stop-color="#ef4623"/><stop offset="0.3750" stop-color="#ef4623"/><stop offset="0.3750" stop-color="#ef4623"/><stop offset="0.5000" stop-color="#ef4623"/><stop offset="0.5000" stop-color="#ef4623"/><stop offset="0.6250" stop-color="#ef4623"/><stop offset="0.6250" stop-color="#ef4623"/><stop offset="0.7500" stop-color="#ef4623"/><stop offset="0.7500" stop-color="#ef4623"/><stop offset="0.8750" stop-color="#ef4623"/><stop offset="0.8750" stop-color="#ef4623"/><stop offset="1.0000" stop-color="#ef4623"/></linearGradient><linearGradient id="g60" x1="0" x2="1" y1="0" y2="0"><stop offset="0.0000" stop-color="#ef4623"/><stop offset="0.1250" stop-color="#ef4623"/><stop offset="0.1250" stop-color="#ef4623"/><stop offset="0.2500" stop-color="#ef4623"/><stop offset="0.2500" stop-color="#ef4623"/><stop offset="0.3750" stop-color="#ef4623"/><stop offset="0.3750" stop-color="#ef4623"/><stop offset="0.5000" stop-color="#ef4623"/><stop offset="0.5000" stop-color="#ef4623"/><stop offset="0.6250" stop-color="#ef4623"/><stop offset="0.6250" stop-color="#ef4623"/><stop offset="0.7500" stop-color="#ef4623"/><stop offset="0.7500" stop-color="#ef4623"/><stop offset="0.8750" stop-color="#ef4623"/><stop offset="0.8750" stop-color="#ef4623"/><stop offset="1.0000" stop-color="#ef4623"/></linearGradient><linearGradient id="g61" x1="0" x2="1" y1="0" y2="0"><stop offset="0.0000" stop-color="#ef4623"/><stop offset="0.1250" stop-color="#ef4623"/><stop offset="0.1250" stop-color="#ef4623"/><stop offset="0.2500" stop-color="#ef4623"/><stop offset="0.2500" stop-color="#ef4623"/><stop offset="0.3750" stop-color="#ef4623"/><stop offset="0.3750" stop-color="#ef4623"/><stop offset="0.5000" stop-color="#ef4623"/><stop offset="0.5000" stop-color="#ef4623"/><stop offset="0.6250" stop-color="#ef4623"/><stop offset="0.6250" stop-color="#ef4623"/><stop offset="0.7500" stop-color="#ef4623"/><stop offset="0.7500" stop-color="#ef4623"/><stop offset="0.8750" stop-color="#ef4623"/><stop offset="0.8750" stop-color="#ef4623"/><stop offset="1.0000" stop-color="#ef4623"/></linearGradient><linearGradient id="g62" x1="0" x2="1" y1="0" y2="0"><stop offset="0.0000" stop-color="#ef4623"/><stop offset="0.1250" stop-color="#ef4623"/><stop offset="0.1250" stop-color="#ef4623"/><stop offset="0.2500" stop-color="#ef4623"/><stop offset="0.2500" stop-color="#ef4623"/><stop offset="0.3750" stop-color="#ef4623"/><stop offset="0.3750" stop-color="#ef4623"/><stop offset="0.5000" stop-color="#ef4623"/><stop offset="0.5000" stop-color="#ef4623"/><stop offset="0.6250" stop-color="#ef4623"/><stop offset="0.6250" stop-color="#ef4623"/><stop offset="0.7500" stop-color="#ef4623"/><stop offset="0.7500" stop-color="#ef4623"/><stop offset="0.8750" stop-color="#ef4623"/><stop offset="0.8750" stop-color="#ef4623"/><stop offset="1.0000" stop-color="#ef4623"/></linearGradient><linearGradient id="g63" x1="0" x2="1" y1="0" y2="0"><stop offset="0.0000" stop-color="#ef4623"/><stop offset="0.1250" stop-color="#ef4623"/><stop offset="0.1250" stop-color="#ef4623"/><stop offset="0.2500" stop-color="#ef4623"/><stop offset="0.2500" stop-color="#ef4623"/><stop offset="0.3750" stop-color="#ef4623"/><stop offset="0.3750" stop-color="#ef4623"/><stop offset="0.5000" stop-color="#ef4623"/><stop offset="0.5000" stop-color="#ef4623"/><stop offset="0.6250" stop-color="#ef4623"/><stop offset="0.6250" stop-color="#ef4623"/><stop offset="0.7500" stop-color="#ef4623"/><stop offset="0.7500" stop-color="#ef4623"/><stop offset="0.8750" stop-color="#ef4623"/><stop offset="0.8750" stop-color="#ef4623"/><stop offset="1.0000" stop-color="#ef4623"/></linearGradient><linearGradient id="g64" x1="0" x2="1" y1="0" y2="0"><stop offset="0.0000" stop-color="#fed207"/><stop offset="0.1250" stop-color="#fed207"/><stop offset="0.1250" stop-color="#feca08"/><stop offset="0.2500" stop-color="#feca08"/><stop offset="0.2500" stop-color="#fec40c"/><stop offset="0.3750" stop-color="#fec40c"/><stop offset="0.3750" stop-color="#fdba12"/><stop offset="0.5000" stop-color="#fdba12"/><stop offset="0.5000" stop-color="#fcb314"/><stop offset="0.6250" stop-color="#fcb314"/><stop offset="0.6250" stop-color="#fbac16"/><stop offset="0.7500" stop-color="#fbac16"/><stop offset="0.7500" stop-color="#faa619"/><stop offset="0.8750" stop-color="#faa619"/><stop offset="0.8750" stop-color="#f99f1b"/><stop offset="1.0000" stop-color="#f99f1b"/></linearGradient><linearGradient id="g65" x1="0" x2="1" y1="0" y2="0"><stop offset="0.0000" stop-color="#ee3223"/><stop offset="0.1250" stop-color="#ee3223"/><stop offset="0.1250" stop-color="#ee2e24"/><stop offset="0.2500" stop-color="#ee2e24"/><stop offset="0.2500" stop-color="#ee2b24"/><stop offset="0.3750" stop-color="#ee2b24"/><stop offset="0.3750" stop-color="#ee2b24"/><stop offset="0.5000" stop-color="#ee2b24"/><stop offset="0.5000" stop-color="#ee2b24"/><stop offset="0.6250" stop-color="#ee2b24"/><stop offset="0.6250" stop-color="#ee2b24"/><stop offset="0.7500" stop-color="#ee2b24"/><stop offset="0.7500" stop-color="#ee2b24"/><stop offset="0.8750" stop-color="#ee2b24"/><stop offset="0.8750" stop-color="#ee2e24"/><stop offset="1.0000" stop-color="#ee2e24"/></linearGradient><linearGradient id="g66" x1="0" x2="1" y1="0" y2="0"><stop offset="0.0000" stop-color="#ef4123"/><stop offset="0.1250" stop-color="#ef4123"/><stop offset="0.1250" stop-color="#ef4123"/><stop offset="0.2500" stop-color="#ef4123"/><stop offset="0.2500" stop-color="#ef4123"/><stop offset="0.3750" stop-color="#ef4123"/><stop offset="0.3750" stop-color="#ef4123"/><stop offset="0.5000" stop-color="#ef4123"/><stop offset="0.5000" stop-color="#ef4123"/><stop offset="0.6250" stop-color="#ef4123"/><stop offset="0.6250" stop-color="#ef4123"/><stop offset="0.7500" stop-color="#ef4123"/><stop offset="0.7500" stop-color="#ef4123"/><stop offset="0.8750" stop-color="#ef4123"/><stop offset="0.8750" stop-color="#ef4123"/><stop offset="1.0000" stop-color="#ef4123"/></linearGradient><linearGradient id="g67" x1="0" x2="1" y1="0" y2="0"><stop offset="0.0000" stop-color="#f04923"/><stop offset="0.1250" stop-color="#f04923"/><stop offset="0.1250" stop-color="#f04923"/><stop offset="0.2500" stop-color="#f04923"/><stop offset="0.2500" stop-color="#f04923"/><stop offset="0.3750" stop-color="#f04923"/><stop offset="0.3750" stop-color="#f04923"/><stop offset="0.5000" stop-color="#f04923"/><stop offset="0.5000" stop-color="#f04923"/><stop offset="0.6250" stop-color="#f04923"/><stop offset="0.6250" stop-color="#f04923"/><stop offset="0.7500" stop-color="#f04923"/><stop offset="0.7500" stop-color="#f04923"/><stop offset="0.8750" stop-color="#f04923"/><stop offset="0.8750" stop-color="#f04923"/><stop offset="1.0000" stop-color="#f04923"/></linearGradient><linearGradient id="g68" x1="0" x2="1" y1="0" y2="0"><stop offset="0.0000" stop-color="#f04923"/><stop offset="0.1250" stop-color="#f04923"/><stop offset="0.1250" stop-color="#f04923"/><stop offset="0.2500" stop-color="#f04923"/><stop offset="0.2500" stop-color="#f04923"/><stop offset="0.3750" stop-color="#f04923"/><stop offset="0.3750" stop-color="#f04923"/><stop offset="0.5000" stop-color="#f04923"/><stop offset="0.5000" stop-color="#f04923"/><stop offset="0.6250" stop-color="#f04923"/><stop offset="0.6250" stop-color="#f04923"/><stop offset="0.7500" stop-color="#f04923"/><stop offset="0.7500" stop-color="#f04923"/><stop offset="0.8750" stop-color="#f04923"/><stop offset="0.8750" stop-color="#f04923"/><stop offset="1.0000" stop-color="#f04923"/></linearGradient><linearGradient id="g69" x1="0" x2="1" y1="0" y2="0"><stop offset="0.0000" stop-color="#f04a23"/><stop offset="0.1250" stop-color="#f04a23"/><stop offset="0.1250" stop-color="#f04a23"/><stop offset="0.2500" stop-color="#f04a23"/><stop offset="0.2500" stop-color="#f04a23"/><stop offset="0.3750" stop-color="#f04a23"/><stop offset="0.3750" stop-color="#f04a23"/><stop offset="0.5000" stop-color="#f04a23"/><stop offset="0.5000" stop-color="#f04a23"/><stop offset="0.6250" stop-color="#f04a23"/><stop offset="0.6250" stop-color="#f04a23"/><stop offset="0.7500" stop-color="#f04a23"/><stop offset="0.7500" stop-color="#f04a23"/><stop offset="0.8750" stop-color="#f04a23"/><stop offset="0.8750" stop-color="#f04a23"/><stop offset="1.0000" stop-color="#f04a23"/></linearGradient><linearGradient id="g70" x1="0" x2="1" y1="0" y2="0"><stop offset="0.0000" stop-color="#fed207"/><stop offset="0.1250" stop-color="#fed207"/><stop offset="0.1250" stop-color="#feca08"/><stop offset="0.2500" stop-color="#feca08"/><stop offset="0.2500" stop-color="#fec40c"/><stop offset="0.3750" stop-color="#fec40c"/><stop offset="0.3750" stop-color="#fdba12"/><stop offset="0.5000" stop-color="#fdba12"/><stop offset="0.5000" stop-color="#fcb314"/><stop offset="0.6250" stop-color="#fcb314"/><stop offset="0.6250" stop-color="#fbac16"/><stop offset="0.7500" stop-color="#fbac16"/><stop offset="0.7500" stop-color="#faa619"/><stop offset="0.8750" stop-color="#faa619"/><stop offset="0.8750" stop-color="#faa21a"/><stop offset="1.0000" stop-color="#faa21a"/></linearGradient><linearGradient id="g71" x1="0" x2="1" y1="0" y2="0"><stop offset="0.0000" stop-color="#ee2b24"/><stop offset="0.1250" stop-color="#ee2b24"/><stop offset="0.1250" stop-color="#ee2724"/><stop offset="0.2500" stop-color="#ee2724"/><stop offset="0.2500" stop-color="#ee2724"/><stop offset="0.3750" stop-color="#ee2724"/><stop offset="0.3750" stop-color="#ee2724"/><stop offset="0.5000" stop-color="#ee2724"/><stop offset="0.5000" stop-color="#ee2724"/><stop offset="0.6250" stop-color="#ee2724"/><stop offset="0.6250" stop-color="#ee2724"/><stop offset="0.7500" stop-color="#ee2724"/><stop offset="0.7500" stop-color="#ee2724"/><stop offset="0.8750" stop-color="#ee2724"/><stop offset="0.8750" stop-color="#ee2b24"/><stop offset="1.0000" stop-color="#ee2b24"/></linearGradient><linearGradient id="g72" x1="0" x2="1" y1="0" y2="0"><stop offset="0.0000" stop-color="#ef4423"/><stop offset="0.1250" stop-color="#ef4423"/><stop offset="0.1250" stop-color="#ef4423"/><stop offset="0.2500" stop-color="#ef4423"/><stop offset="0.2500" stop-color="#ef4423"/><stop offset="0.3750" stop-color="#ef4423"/><stop offset="0.3750" stop-color="#ef4423"/><stop offset="0.5000" stop-color="#ef4423"/><stop offset="0.5000" stop-color="#ef4423"/><stop offset="0.6250" stop-color="#ef4423"/><stop offset="0.6250" stop-color="#ef4423"/><stop offset="0.7500" stop-color="#ef4423"/><stop offset="0.7500" stop-color="#ef4423"/><stop offset="0.8750" stop-color="#ef4423"/><stop offset="0.8750" stop-color="#ef4423"/><stop offset="1.0000" stop-color="#ef4423"/></linearGradient><linearGradient id="g73" x1="0" x2="1" y1="0" y2="0"><stop offset="0.0000" stop-color="#ef4623"/><stop offset="0.1250" stop-color="#ef4623"/><stop offset="0.1250" stop-color="#ef4623"/><stop offset="0.2500" stop-color="#ef4623"/><stop offset="0.2500" stop-color="#ef4623"/><stop offset="0.3750" stop-color="#ef4623"/><stop offset="0.3750" stop-color="#ef4623"/><stop offset="0.5000" stop-color="#ef4623"/><stop offset="0.5000" stop-color="#ef4623"/><stop offset="0.6250" stop-color="#ef4623"/><stop offset="0.6250" stop-color="#ef4623"/><stop offset="0.7500" stop-color="#ef4623"/><stop offset="0.7500" stop-color="#ef4623"/><stop offset="0.8750" stop-color="#ef4623"/><stop offset="0.8750" stop-color="#ef4623"/><stop offset="1.0000" stop-color="#ef4623"/></linearGradient><linearGradient id="g74" x1="0" x2="1" y1="0" y2="0"><stop offset="0.0000" stop-color="#f04923"/><stop offset="0.1250" stop-color="#f04923"/><stop offset="0.1250" stop-color="#f04923"/><stop offset="0.2500" stop-color="#f04923"/><stop offset="0.2500" stop-color="#f04923"/><stop offset="0.3750" stop-color="#f04923"/><stop offset="0.3750" stop-color="#f04923"/><stop offset="0.5000" stop-color="#f04923"/><stop offset="0.5000" stop-color="#f04923"/><stop offset="0.6250" stop-color="#f04923"/><stop offset="0.6250" stop-color="#f04923"/><stop offset="0.7500" stop-color="#f04923"/><stop offset="0.7500" stop-color="#f04923"/><stop offset="0.8750" stop-color="#f04923"/><stop offset="0.8750" stop-color="#f04923"/><stop offset="1.0000" stop-color="#f04923"/></linearGradient><linearGradient id="g75" x1="0" x2="1" y1="0" y2="0"><stop offset="0.0000" stop-color="#f04923"/><stop offset="0.1250" stop-color="#f04923"/><stop offset="0.1250" stop-color="#f04923"/><stop offset="0.2500" stop-color="#f04923"/><stop offset="0.2500" stop-color="#f04923"/><stop offset="0.3750" stop-color="#f04923"/><stop offset="0.3750" stop-color="#f04923"/><stop offset="0.5000" stop-color="#f04923"/><stop offset="0.5000" stop-color="#f04923"/><stop offset="0.6250" stop-color="#f04923"/><stop offset="0.6250" stop-color="#f04923"/><stop offset="0.7500" stop-color="#f04923"/><stop offset="0.7500" stop-color="#f04923"/><stop offset="0.8750" stop-color="#f04923"/><stop offset="0.8750" stop-color="#f04923"/><stop offset="1.0000" stop-color="#f04923"/></linearGradient><linearGradient id="cb" x1="0" x2="1" y1="0" y2="0"><stop offset="0.0%" stop-color="#fcf023"/><stop offset="7.1%" stop-color="#fde60f"/><stop offset="14.3%" stop-color="#fed906"/><stop offset="21.4%" stop-color="#feca08"/><stop offset="28.6%" stop-color="#fdba12"/><stop offset="42.9%" stop-color="#f8981d"/><stop offset="54.3%" stop-color="#f58220"/><stop offset="71.4%" stop-color="#f15a22"/><stop offset="85.7%" stop-color="#ef4123"/><stop offset="100.0%" stop-color="#ed1c24"/></linearGradient></defs>
<rect width="412" height="550" fill="#fff"/>
<rect x="295.4" y="27.6" width="115.6" height="20.8" fill="url(#cb)"/>
<line x1="296.0" y1="24.6" x2="296.0" y2="27.6" stroke="#111" stroke-width="0.8"/><line x1="311.3" y1="24.6" x2="311.3" y2="27.6" stroke="#111" stroke-width="0.8"/><line x1="326.6" y1="24.6" x2="326.6" y2="27.6" stroke="#111" stroke-width="0.8"/><line x1="341.9" y1="24.6" x2="341.9" y2="27.6" stroke="#111" stroke-width="0.8"/><line x1="357.2" y1="24.6" x2="357.2" y2="27.6" stroke="#111" stroke-width="0.8"/><line x1="372.5" y1="24.6" x2="372.5" y2="27.6" stroke="#111" stroke-width="0.8"/><line x1="387.8" y1="24.6" x2="387.8" y2="27.6" stroke="#111" stroke-width="0.8"/><line x1="403.1" y1="24.6" x2="403.1" y2="27.6" stroke="#111" stroke-width="0.8"/>
<text x="296.0" y="23.2" text-anchor="middle" class="t7">0.0</text><text x="311.3" y="23.2" text-anchor="middle" class="t7">0.1</text><text x="326.6" y="23.2" text-anchor="middle" class="t7">0.2</text><text x="341.9" y="23.2" text-anchor="middle" class="t7">0.3</text><text x="357.2" y="23.2" text-anchor="middle" class="t7">0.4</text><text x="372.5" y="23.2" text-anchor="middle" class="t7">0.5</text><text x="387.8" y="23.2" text-anchor="middle" class="t7">0.6</text><text x="403.1" y="23.2" text-anchor="middle" class="t7">0.7</text>
<text x="338.8" y="11.5" class="ti" textLength="4.0" lengthAdjust="spacingAndGlyphs">L</text><text x="343.2" y="13.6" class="sub">(25)</text><text x="352.8" y="11.3" class="ti" style="font-size:6.6px;stroke-width:0.25px">-</text><text x="356.2" y="11.5" class="ti" textLength="4.9" lengthAdjust="spacingAndGlyphs">P</text><text x="361.8" y="13.9" class="sub2">BB</text>
<text x="133.9" y="58.3" text-anchor="middle" class="ch" textLength="91.6" lengthAdjust="spacingAndGlyphs">Constant Population Size</text>
<text x="247.3" y="58.3" text-anchor="middle" class="ch" textLength="68" lengthAdjust="spacingAndGlyphs">10-Fold Bottleneck</text>
<text x="363.2" y="58.3" text-anchor="middle" class="ch" textLength="73.3" lengthAdjust="spacingAndGlyphs">100-Fold Bottleneck</text>
<text x="3" y="78" class="rl" textLength="50" lengthAdjust="spacingAndGlyphs">No admixture</text>
<text x="3.4" y="159.5" class="rl" textLength="49.6" lengthAdjust="spacingAndGlyphs">1% admixture</text>
<text x="3.3" y="267" class="rl" textLength="50" lengthAdjust="spacingAndGlyphs">5% admixture</text>
<text x="3" y="383.4" class="rl" textLength="55.3" lengthAdjust="spacingAndGlyphs">25% admixture</text>
<text x="3" y="497.4" class="rl" textLength="55.3" lengthAdjust="spacingAndGlyphs">50% admixture</text>
<rect x="85.3" y="62.6" width="97.7" height="24.0" fill="url(#g1)"/>
<rect x="85.2" y="100.05" width="97.7" height="102.10" fill="url(#g2)"/>
<rect x="85.2" y="117.07" width="97.7" height="85.08" fill="url(#g3)"/>
<rect x="85.2" y="134.08" width="97.7" height="68.07" fill="url(#g4)"/>
<rect x="85.2" y="151.10" width="97.7" height="51.05" fill="url(#g5)"/>
<rect x="85.2" y="168.12" width="97.7" height="34.03" fill="url(#g6)"/>
<rect x="85.2" y="185.13" width="97.7" height="17.02" fill="url(#g7)"/>
<rect x="85.0" y="215.60" width="97.7" height="102.10" fill="url(#g8)"/>
<rect x="85.0" y="232.62" width="97.7" height="85.08" fill="url(#g9)"/>
<rect x="85.0" y="249.63" width="97.7" height="68.07" fill="url(#g10)"/>
<rect x="85.0" y="266.65" width="97.7" height="51.05" fill="url(#g11)"/>
<rect x="85.0" y="283.67" width="97.7" height="34.03" fill="url(#g12)"/>
<rect x="85.0" y="300.68" width="97.7" height="17.02" fill="url(#g13)"/>
<rect x="84.7" y="331.50" width="97.7" height="102.00" fill="url(#g14)"/>
<rect x="84.7" y="348.50" width="97.7" height="85.00" fill="url(#g15)"/>
<rect x="84.7" y="365.50" width="97.7" height="68.00" fill="url(#g16)"/>
<rect x="84.7" y="382.50" width="97.7" height="51.00" fill="url(#g17)"/>
<rect x="84.7" y="399.50" width="97.7" height="34.00" fill="url(#g18)"/>
<rect x="84.7" y="416.50" width="97.7" height="17.00" fill="url(#g19)"/>
<rect x="84.8" y="445.00" width="97.7" height="101.80" fill="url(#g20)"/>
<rect x="84.8" y="461.97" width="97.7" height="84.83" fill="url(#g21)"/>
<rect x="84.8" y="478.93" width="97.7" height="67.87" fill="url(#g22)"/>
<rect x="84.8" y="495.90" width="97.7" height="50.90" fill="url(#g23)"/>
<rect x="84.8" y="512.87" width="97.7" height="33.93" fill="url(#g24)"/>
<rect x="84.8" y="529.83" width="97.7" height="16.97" fill="url(#g25)"/>
<rect x="198.0" y="62.6" width="97.7" height="24.0" fill="url(#g26)"/>
<rect x="198.2" y="100.05" width="97.7" height="102.10" fill="url(#g27)"/>
<rect x="198.2" y="117.07" width="97.7" height="85.08" fill="url(#g28)"/>
<rect x="198.2" y="134.08" width="97.7" height="68.07" fill="url(#g29)"/>
<rect x="198.2" y="151.10" width="97.7" height="51.05" fill="url(#g30)"/>
<rect x="198.2" y="168.12" width="97.7" height="34.03" fill="url(#g31)"/>
<rect x="198.2" y="185.13" width="97.7" height="17.02" fill="url(#g32)"/>
<rect x="197.4" y="215.60" width="97.7" height="102.10" fill="url(#g33)"/>
<rect x="197.4" y="232.62" width="97.7" height="85.08" fill="url(#g34)"/>
<rect x="197.4" y="249.63" width="97.7" height="68.07" fill="url(#g35)"/>
<rect x="197.4" y="266.65" width="97.7" height="51.05" fill="url(#g36)"/>
<rect x="197.4" y="283.67" width="97.7" height="34.03" fill="url(#g37)"/>
<rect x="197.4" y="300.68" width="97.7" height="17.02" fill="url(#g38)"/>
<rect x="197.6" y="331.50" width="97.7" height="102.00" fill="url(#g39)"/>
<rect x="197.6" y="348.50" width="97.7" height="85.00" fill="url(#g40)"/>
<rect x="197.6" y="365.50" width="97.7" height="68.00" fill="url(#g41)"/>
<rect x="197.6" y="382.50" width="97.7" height="51.00" fill="url(#g42)"/>
<rect x="197.6" y="399.50" width="97.7" height="34.00" fill="url(#g43)"/>
<rect x="197.6" y="416.50" width="97.7" height="17.00" fill="url(#g44)"/>
<rect x="198.3" y="445.00" width="97.7" height="101.80" fill="url(#g45)"/>
<rect x="198.3" y="461.97" width="97.7" height="84.83" fill="url(#g46)"/>
<rect x="198.3" y="478.93" width="97.7" height="67.87" fill="url(#g47)"/>
<rect x="198.3" y="495.90" width="97.7" height="50.90" fill="url(#g48)"/>
<rect x="198.3" y="512.87" width="97.7" height="33.93" fill="url(#g49)"/>
<rect x="198.3" y="529.83" width="97.7" height="16.97" fill="url(#g50)"/>
<rect x="313.7" y="62.6" width="97.7" height="24.0" fill="url(#g51)"/>
<rect x="313.8" y="100.05" width="97.7" height="102.10" fill="url(#g52)"/>
<rect x="313.8" y="117.07" width="97.7" height="85.08" fill="url(#g53)"/>
<rect x="313.8" y="134.08" width="97.7" height="68.07" fill="url(#g54)"/>
<rect x="313.8" y="151.10" width="97.7" height="51.05" fill="url(#g55)"/>
<rect x="313.8" y="168.12" width="97.7" height="34.03" fill="url(#g56)"/>
<rect x="313.8" y="185.13" width="97.7" height="17.02" fill="url(#g57)"/>
<rect x="313.1" y="215.60" width="97.7" height="102.10" fill="url(#g58)"/>
<rect x="313.1" y="232.62" width="97.7" height="85.08" fill="url(#g59)"/>
<rect x="313.1" y="249.63" width="97.7" height="68.07" fill="url(#g60)"/>
<rect x="313.1" y="266.65" width="97.7" height="51.05" fill="url(#g61)"/>
<rect x="313.1" y="283.67" width="97.7" height="34.03" fill="url(#g62)"/>
<rect x="313.1" y="300.68" width="97.7" height="17.02" fill="url(#g63)"/>
<rect x="313.9" y="331.50" width="97.7" height="102.00" fill="url(#g64)"/>
<rect x="313.9" y="348.50" width="97.7" height="85.00" fill="url(#g65)"/>
<rect x="313.9" y="365.50" width="97.7" height="68.00" fill="url(#g66)"/>
<rect x="313.9" y="382.50" width="97.7" height="51.00" fill="url(#g67)"/>
<rect x="313.9" y="399.50" width="97.7" height="34.00" fill="url(#g68)"/>
<rect x="313.9" y="416.50" width="97.7" height="17.00" fill="url(#g69)"/>
<rect x="313.4" y="445.00" width="97.7" height="101.80" fill="url(#g70)"/>
<rect x="313.4" y="461.97" width="97.7" height="84.83" fill="url(#g71)"/>
<rect x="313.4" y="478.93" width="97.7" height="67.87" fill="url(#g72)"/>
<rect x="313.4" y="495.90" width="97.7" height="50.90" fill="url(#g73)"/>
<rect x="313.4" y="512.87" width="97.7" height="33.93" fill="url(#g74)"/>
<rect x="313.4" y="529.83" width="97.7" height="16.97" fill="url(#g75)"/>
<text x="81.2" y="111.0" text-anchor="end" class="ax">0.01</text>
<line x1="82.4" y1="108.7" x2="85.4" y2="108.7" stroke="#111" stroke-width="0.8"/>
<text x="81.2" y="196.1" text-anchor="end" class="ax">0.06</text>
<line x1="82.4" y1="193.8" x2="85.4" y2="193.8" stroke="#111" stroke-width="0.8"/>
<text transform="translate(82.0,151.5) rotate(-90)" text-anchor="middle" class="ax" textLength="48.5" lengthAdjust="spacingAndGlyphs">Admixture Time</text>
<line x1="90.8" y1="202.4" x2="90.8" y2="205.2" stroke="#111" stroke-width="0.8"/>
<line x1="176.2" y1="202.4" x2="176.2" y2="205.2" stroke="#111" stroke-width="0.8"/>
<text x="90.7" y="212.0" text-anchor="middle" class="ax" style="font-size:7px">0.6</text>
<text x="176.1" y="212.0" text-anchor="middle" class="ax" style="font-size:7px">2.0</text>
<text x="135.1" y="210.3" text-anchor="middle" class="ax" style="font-size:7.2px" textLength="50.4" lengthAdjust="spacingAndGlyphs">Divergence Time</text>
</svg>
</body></html>
